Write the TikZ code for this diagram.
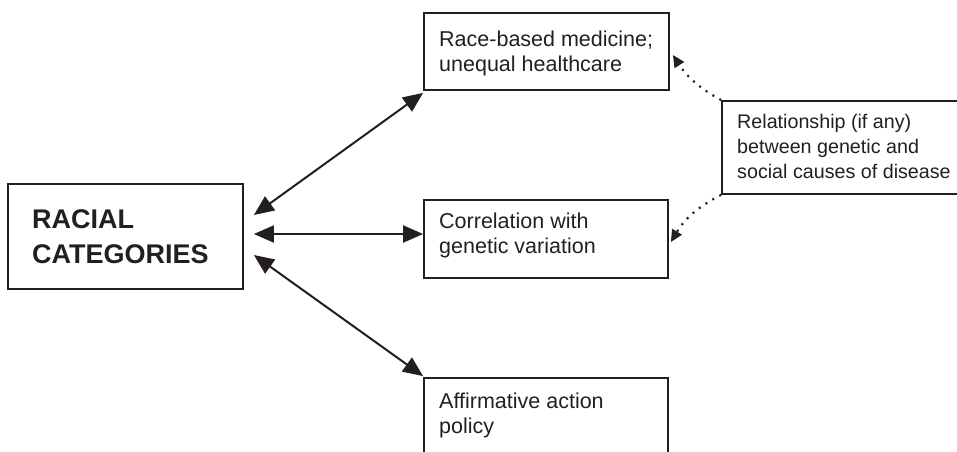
\documentclass[tikz,border=0pt]{standalone}
\usepackage{fontspec}
\setmainfont{Liberation Sans}
\usetikzlibrary{arrows.meta,calc}
\definecolor{ink}{HTML}{231F20}
\begin{document}
\begin{tikzpicture}[x=1pt,y=-1pt,
  box/.style={draw=ink,line width=1.8pt,rectangle,inner sep=0pt},
  txt/.style={inner sep=0pt,anchor=base west,align=left,text=ink,font=\fontsize{21.5}{25}\selectfont},
  reltxt/.style={inner sep=0pt,anchor=base west,align=left,text=ink,font=\fontsize{19.7}{25}\selectfont},
  bigtxt/.style={inner sep=0pt,anchor=base west,align=left,text=ink,font=\bfseries\fontsize{27}{35}\selectfont},
  link/.style={draw=ink,line width=2pt,{Triangle[length=20pt,width=17pt]}-{Triangle[length=20pt,width=17pt]}},
  dotlink/.style={draw=ink,line width=2.2pt,dash pattern=on 2pt off 6pt,-{Triangle[length=12pt,width=11pt]}}
]
\useasboundingbox (0,0) rectangle (957,451);
\clip (0,0) rectangle (957,451);
% boxes
\node[box,minimum width=235pt,minimum height=105pt] (rc) at (125.5,236.5) {};
\node[box,minimum width=245pt,minimum height=77pt] (race) at (546.5,51.5) {};
\node[box,minimum width=244pt,minimum height=78pt] (corr) at (546,239) {};
\node[box,minimum width=244pt,minimum height=92pt] (aff) at (546,424) {};
\node[box,minimum width=260pt,minimum height=93pt] (rel) at (852,147.5) {};
% texts (base = baseline of the last line)
\node[bigtxt] (rct) at (32,263) {RACIAL\\CATEGORIES};
\node[txt] (racet) at (439,71) {Race-based medicine;\\unequal healthcare};
\node[txt] (corrt) at (439,253) {Correlation with\\genetic variation};
\node[txt] (afft) at (439,433) {Affirmative action\\policy};
\node[reltxt] (relt) at (737,178) {Relationship (if any)\\between genetic and\\social causes of disease};
% connectors
\draw[link] ([shift={(10,-21.5)}]rc.east) -- ([shift={(0,2)}]race.south west);
\draw[link] ([shift={(10,-2.5)}]rc.east) -- ([shift={(0,-5)}]corr.west);
\draw[link] ([shift={(10,18.5)}]rc.east) -- ([shift={(0,-1)}]aff.north west);
\draw[dotlink] (rel.north west) to[bend left=14] ([shift={(3,3.5)}]race.east);
\draw[dotlink] (rel.south west) to[bend right=16] ([shift={(2,3)}]corr.east);
\end{tikzpicture}
\end{document}
